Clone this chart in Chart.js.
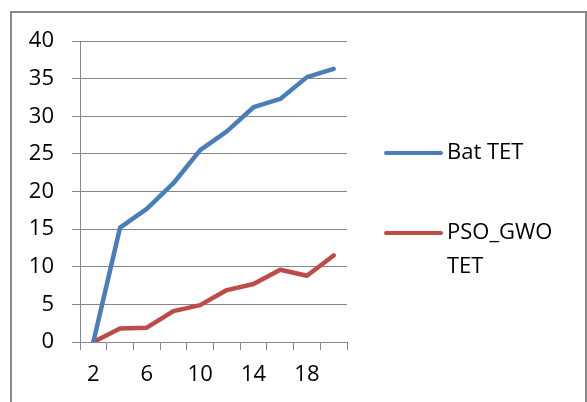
<!DOCTYPE html>
<html>
<head>
<meta charset="utf-8">
<script src="https://cdn.jsdelivr.net/npm/chart.js@4"></script>
<style>
  html, body { margin: 0; padding: 0; background: #fff; }
  #wrap { position: relative; width: 587px; height: 402px; }
</style>
</head>
<body>
<div id="wrap"><canvas id="c" width="587" height="402"></canvas></div>
<script>
// Iteration labels on the category axis
const categories = ['2', '4', '6', '8', '10', '12', '14', '16', '18', '20'];
// Total execution time per series
const batTET = [0, 15.2, 17.7, 21.1, 25.5, 28.0, 31.2, 32.3, 35.2, 36.3];
const psoGwoTET = [0, 1.8, 1.9, 4.1, 4.9, 6.9, 7.7, 9.6, 8.8, 11.5];
const seriesNames = ['Bat TET', 'PSO_GWO TET'];
// Y axis range
const yMin = 0, yMax = 40, yStep = 5;

const FONT = { family: '"Open Sans", "Liberation Sans", sans-serif', size: 22 };
const GRID = '#868686';

// Frame around the whole chart
const framePlugin = {
  id: 'frame',
  beforeDraw(chart) {
    const ctx = chart.ctx;
    ctx.save();
    ctx.fillStyle = '#fff';
    ctx.fillRect(0, 0, chart.width, chart.height);
    ctx.strokeStyle = '#898989';
    ctx.lineWidth = 2;
    ctx.strokeRect(11, 12, 575, 400);
    ctx.restore();
  }
};

// Legend on the right, with word-wrapped labels
const sideLegend = {
  id: 'sideLegend',
  afterDraw(chart, args, opts) {
    const ctx = chart.ctx;
    ctx.save();
    ctx.font = `${FONT.size}px ${FONT.family}`;
    ctx.textBaseline = 'middle';
    ctx.textAlign = 'left';
    chart.data.datasets.forEach((ds, i) => {
      const y = opts.top + i * opts.spacing;
      ctx.strokeStyle = ds.borderColor;
      ctx.lineWidth = 4;
      ctx.lineCap = 'round';
      ctx.beginPath();
      ctx.moveTo(opts.x, y);
      ctx.lineTo(opts.x + opts.lineLen, y);
      ctx.stroke();
      // wrap words into lines that fit
      const words = ds.label.split(' ');
      const lines = [];
      let cur = '';
      words.forEach(w => {
        const t = cur ? cur + ' ' + w : w;
        if (cur && ctx.measureText(t).width > opts.maxWidth) { lines.push(cur); cur = w; }
        else cur = t;
      });
      if (cur) lines.push(cur);
      ctx.fillStyle = '#000';
      lines.forEach((ln, k) => {
        ctx.fillText(ln, opts.x + opts.lineLen + 6, y + k * opts.lineHeight);
      });
    });
    ctx.restore();
  }
};

new Chart(document.getElementById('c'), {
  type: 'line',
  data: {
    labels: categories,
    datasets: [
      { label: seriesNames[0], data: batTET, borderColor: '#4a7ebb', backgroundColor: '#4a7ebb' },
      { label: seriesNames[1], data: psoGwoTET, borderColor: '#be4b48', backgroundColor: '#be4b48' }
    ]
  },
  options: {
    responsive: false,
    animation: false,
    layout: { padding: { top: 41, right: 240, left: 0, bottom: 0 } },
    elements: {
      line: { borderWidth: 4.5, tension: 0, borderJoinStyle: 'round', borderCapStyle: 'round' },
      point: { radius: 0, hoverRadius: 0 }
    },
    plugins: {
      legend: { display: false },
      tooltip: { enabled: false },
      sideLegend: { x: 386, top: 153, spacing: 80, lineLen: 55, lineHeight: 33.5, maxWidth: 125 }
    },
    scales: {
      x: {
        offset: true,
        grid: { offset: true, drawOnChartArea: false, drawTicks: true, tickLength: 8, color: GRID, lineWidth: 1 },
        border: { display: true, color: GRID, width: 1 },
        ticks: {
          autoSkip: false, maxRotation: 0, padding: 12, color: '#000', font: FONT,
          callback: (v, i) => (i % 2 === 0 ? categories[i] : '')
        },
        afterFit: (s) => { s.height = 60; }
      },
      y: {
        min: yMin, max: yMax,
        grid: { color: GRID, lineWidth: 1, tickLength: 8 },
        border: { display: true, color: GRID, width: 1 },
        ticks: { stepSize: yStep, padding: 18, color: '#000', font: FONT },
        afterFit: (s) => { s.width = 80; }
      }
    }
  },
  plugins: [framePlugin, sideLegend]
});
</script>
</body>
</html>
